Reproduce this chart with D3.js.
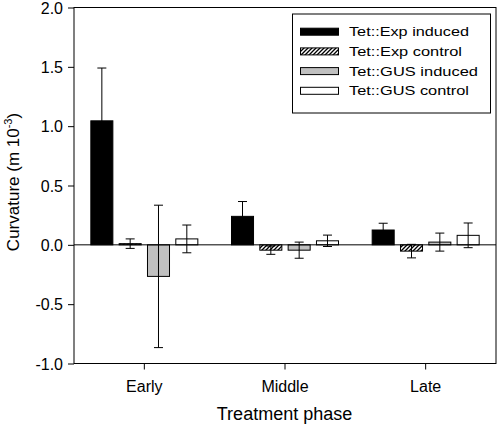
<!DOCTYPE html>
<html><head><meta charset="utf-8">
<script src="https://cdn.jsdelivr.net/npm/d3@7"></script>
<style>body{margin:0;background:#fff}svg{display:block}text{font-family:Arial,"Liberation Sans",sans-serif;fill:#000}</style>
</head><body><svg id="c" width="498" height="427"></svg>
<script>
const categories = ["Early", "Middle", "Late"];
const seriesNames = ["Tet::Exp induced", "Tet::Exp control", "Tet::GUS induced", "Tet::GUS control"];
const expInduced = [1.045, 0.24, 0.125];
const expInducedErr = [0.445, 0.125, 0.057];
const expControl = [0.01, -0.045, -0.053];
const expControlErr = [0.04, 0.035, 0.057];
const gusInduced = [-0.266, -0.045, 0.023];
const gusInducedErr = [0.60, 0.068, 0.076];
const gusControl = [0.05, 0.034, 0.08];
const gusControlErr = [0.117, 0.048, 0.104];
const yTicks = [-1.0, -0.5, 0.0, 0.5, 1.0, 1.5, 2.0];

const values = [expInduced, expControl, gusInduced, gusControl];
const errs = [expInducedErr, expControlErr, gusInducedErr, gusControlErr];
const fills = ["#000", "url(#hatch)", "#c0c0c0", "#fff"];

const svg = d3.select("#c");
const defs = svg.append("defs");
const pat = defs.append("pattern").attr("id","hatch").attr("patternUnits","userSpaceOnUse")
  .attr("width",4).attr("height",4);
pat.append("rect").attr("width",4).attr("height",4).attr("fill","#fff");
pat.append("path").attr("d","M-1,1 l2,-2 M0,4 l4,-4 M3,5 l2,-2").attr("stroke","#000").attr("stroke-width",1.3);

const L=74, R=496, T=7.5, B=363.5;
const x = d3.scaleBand().domain(categories).range([L,R]).padding(0);
const inner = d3.scaleBand().domain(d3.range(4)).range([0,108]).paddingInner(0.187).paddingOuter(0);
const off = (x.bandwidth()-108)/2;
const y = d3.scaleLinear().domain([-1,2]).range([B,T]);

// axes
const fmt = v => d3.format(".1f")(v).replace("\u2212","-");
const ya = svg.append("g").attr("transform",`translate(${L},0)`)
  .call(d3.axisLeft(y).tickValues(yTicks).tickFormat(fmt).tickSize(6).tickSizeOuter(0));
ya.select(".domain").remove();
ya.selectAll("text").style("font-size","16px").attr("x",-11).attr("dy","0.35em");
const xa = svg.append("g").attr("transform",`translate(0,${B})`)
  .call(d3.axisBottom(x).tickSize(6).tickSizeOuter(0));
xa.select(".domain").remove();
xa.selectAll("text").style("font-size","16px").attr("y",17).attr("dy","0.71em");
svg.selectAll(".tick line").attr("stroke","#000");

// frame
svg.append("rect").attr("x",L).attr("y",T).attr("width",R-L).attr("height",B-T)
  .attr("fill","none").attr("stroke","#000").attr("stroke-width",1);

// bars
values.forEach((vals,s)=>{
  const g = svg.append("g");
  g.selectAll("rect").data(categories).join("rect")
    .attr("x",c=>x(c)+off+inner(s)+0.5)
    .attr("y",(c,i)=>y(Math.max(0,vals[i])))
    .attr("width",inner.bandwidth()-1)
    .attr("height",(c,i)=>Math.abs(y(vals[i])-y(0)))
    .attr("fill",fills[s]).attr("stroke","#000").attr("stroke-width",1);
});
// zero line
svg.append("line").attr("x1",L).attr("x2",R).attr("y1",y(0)).attr("y2",y(0)).attr("stroke","#000");
// error bars
values.forEach((vals,s)=>{
  categories.forEach((c,i)=>{
    const cx = x(c)+off+inner(s)+inner.bandwidth()/2;
    const lo = y(vals[i]-errs[s][i]), hi = y(vals[i]+errs[s][i]);
    const g = svg.append("g").attr("stroke","#000").attr("stroke-width",1);
    g.append("line").attr("x1",cx).attr("x2",cx).attr("y1",lo).attr("y2",hi);
    g.append("line").attr("x1",cx-4.5).attr("x2",cx+4.5).attr("y1",hi).attr("y2",hi);
    g.append("line").attr("x1",cx-4.5).attr("x2",cx+4.5).attr("y1",lo).attr("y2",lo);
  });
});

// axis titles
svg.append("text").attr("x",284.5).attr("y",420).attr("text-anchor","middle")
  .style("font-size","18px").text("Treatment phase");
const yl = svg.append("text").attr("transform","translate(19,182) rotate(-90)")
  .attr("text-anchor","middle").style("font-size","17px");
yl.append("tspan").text("Curvature (m 10");
yl.append("tspan").attr("dy",-7).style("font-size","11px").text("-3");
yl.append("tspan").attr("dy",7).text(")");

// legend
svg.append("rect").attr("x",292.5).attr("y",14).attr("width",198).attr("height",99)
  .attr("fill","#fff").attr("stroke","#000");
const legW = [120,113,129,120];
seriesNames.forEach((n,s)=>{
  const cy = 31.7 + s*19.7;
  svg.append("rect").attr("x",300.5).attr("y",cy-3.5).attr("width",38).attr("height",7)
    .attr("fill",fills[s]).attr("stroke","#000");
  svg.append("text").attr("x",349).attr("y",cy+4.5).style("font-size","13px")
    .attr("textLength",legW[s]).attr("lengthAdjust","spacingAndGlyphs").text(n);
});
</script></body></html>
